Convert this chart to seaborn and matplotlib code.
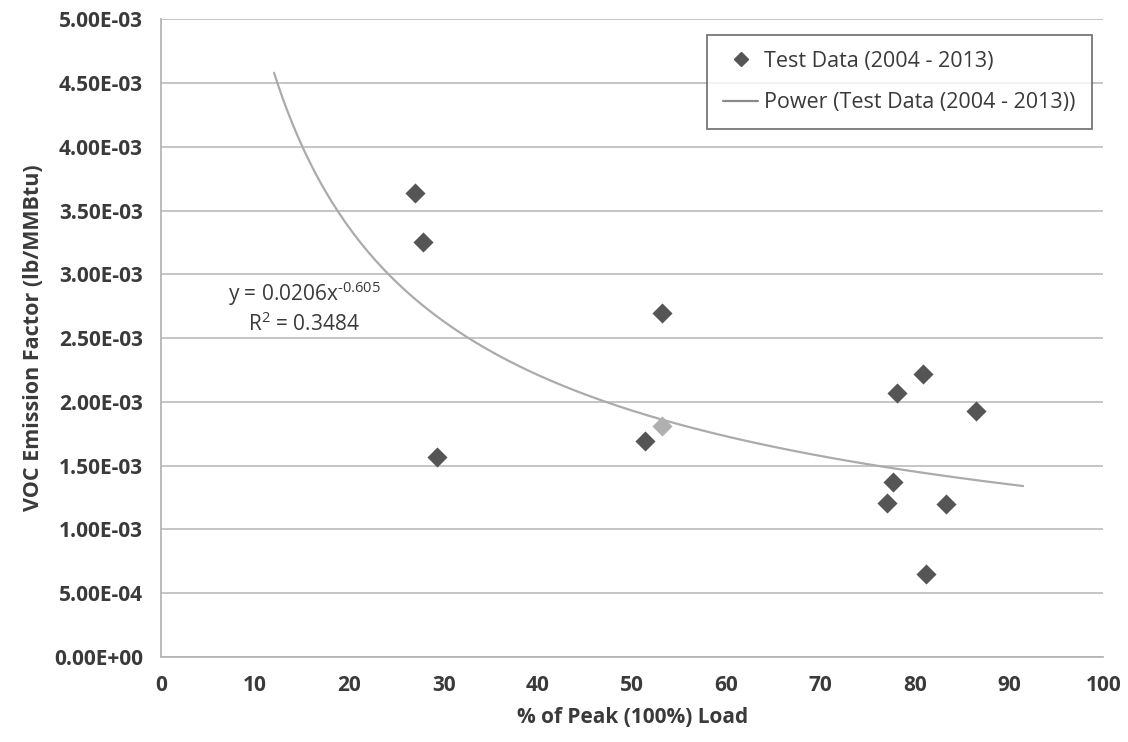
import numpy as np
import pandas as pd
import matplotlib
matplotlib.use("Agg")
import matplotlib.pyplot as plt
from matplotlib.lines import Line2D
from matplotlib.ticker import FuncFormatter, MultipleLocator
import seaborn as sns

# test data
load_pct = [27.0, 27.8, 29.3, 51.4, 53.2, 53.2, 77.1, 77.7, 78.1, 80.9, 81.2, 83.3, 86.5]
voc_ef = [3.64e-3, 3.25e-3, 1.57e-3, 1.69e-3, 2.70e-3, 1.81e-3, 1.21e-3,
          1.37e-3, 2.07e-3, 2.22e-3, 0.648e-3, 1.20e-3, 1.93e-3]
highlight_idx = 5  # the lighter diamond

# power trendline as shown in the chart
coef = 0.0206
expo = -0.605
r2 = 0.3484
trend_x0, trend_x1 = 12, 91.5

df = pd.DataFrame({"load": load_pct, "voc": voc_ef})
trend_x = np.linspace(trend_x0, trend_x1, 200)
trend = pd.DataFrame({"load": trend_x, "voc": coef * trend_x ** expo})

sns.set_style("white")
plt.rcParams["font.family"] = ["Open Sans", "DejaVu Sans"]
plt.rcParams["mathtext.default"] = "regular"
txt = "#3a3a3a"

fig = plt.figure(figsize=(11.28, 7.42), dpi=100)
ax = fig.add_axes([0.1427, 0.1146, 0.8353, 0.8594])

sns.lineplot(data=trend, x="load", y="voc", ax=ax, color="#ababab", lw=1.6, zorder=2)
main = df.drop(index=highlight_idx)
sns.scatterplot(data=main, x="load", y="voc", ax=ax, marker="D", s=105,
                color="#555555", linewidth=0, zorder=3)
sns.scatterplot(data=df.loc[[highlight_idx]], x="load", y="voc", ax=ax, marker="D",
                s=105, color="#b0b0b0", linewidth=0, zorder=3)

ax.set_xlim(0, 100)
ax.set_ylim(0, 5e-3)
ax.xaxis.set_major_locator(MultipleLocator(10))
ax.yaxis.set_major_locator(MultipleLocator(5e-4))
ax.yaxis.set_major_formatter(FuncFormatter(lambda v, p: f"{v:.2E}"))
ax.grid(axis="y", color="#c0c0c0", lw=1.3)
ax.set_axisbelow(True)
for side in ["top", "right"]:
    ax.spines[side].set_visible(False)
for side in ["left", "bottom"]:
    ax.spines[side].set_color("#b5b5b5")
    ax.spines[side].set_linewidth(1.3)
ax.tick_params(axis="both", length=5, width=1, color="#b5b5b5",
               labelsize=15, labelcolor=txt, pad=8)
for lbl in ax.get_xticklabels() + ax.get_yticklabels():
    lbl.set_fontweight("bold")

ax.set_xlabel("% of Peak (100%) Load", fontsize=15, fontweight="bold", color=txt, labelpad=8)
ax.set_ylabel("VOC Emission Factor (lb/MMBtu)", fontsize=15.5, fontweight="bold", color=txt, labelpad=7)

exp_txt = f"{expo}".replace("-", "\u2010")
ax.text(15.2, 2.74e-3, f"y = {coef}x$^{{{exp_txt}}}$\nR$^{{2}}$ = {r2}", ha="center", va="center",
        fontsize=15, color=txt, linespacing=1.25)

handles = [
    Line2D([], [], marker="D", ls="none", color="#555555", markersize=7),
    Line2D([], [], color="#8a8a8a", lw=1.6),
]
leg = ax.legend(handles, ["Test Data (2004 - 2013)", "Power (Test Data (2004 - 2013))"],
                loc="upper right", bbox_to_anchor=(0.988, 0.976),
                frameon=True, fancybox=False, handlelength=1.6, handletextpad=0.3,
                borderpad=0.75, labelspacing=0.95, borderaxespad=0,
                prop={"family": ["Open Sans", "DejaVu Sans"], "size": 15.5})
leg.get_frame().set_edgecolor("#555555")
leg.get_frame().set_linewidth(1.3)
for t in leg.get_texts():
    t.set_color(txt)

fig.savefig("out.png", dpi=100)
